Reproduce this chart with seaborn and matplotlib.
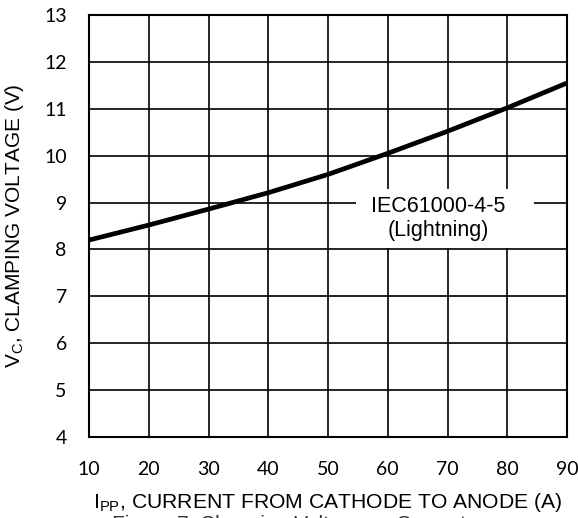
import matplotlib
matplotlib.use("Agg")
import matplotlib.pyplot as plt
from matplotlib.patches import Rectangle
import seaborn as sns
import pandas as pd

current = [10, 20, 30, 40, 50, 60, 70, 80, 90]
voltage = [8.2, 8.52, 8.86, 9.21, 9.6, 10.05, 10.52, 11.02, 11.55]
xticks = [10, 20, 30, 40, 50, 60, 70, 80, 90]
yticks = [4, 5, 6, 7, 8, 9, 10, 11, 12, 13]
annotation = "IEC61000-4-5\n(Lightning)"
caption = "Figure 7. Clamping Voltage vs Current"

sns.set_theme(style="white")
plt.rcParams['font.family'] = ['Liberation Sans', 'DejaVu Sans']

df = pd.DataFrame({"I": current, "V": voltage})

fig = plt.figure(figsize=(5.78, 5.18), dpi=100)
ax = fig.add_axes([89/578, 1-437/518, (567-89)/578, (437-15)/518])

sns.lineplot(data=df, x="I", y="V", ax=ax, color="black", linewidth=3.4, zorder=3)

ax.set_xlim(10, 90)
ax.set_ylim(4, 13)
ax.set_xticks(xticks)
ax.set_yticks(yticks)
ax.grid(True, color="black", linewidth=1.2)
ax.set_axisbelow(True)
for s in ax.spines.values():
    s.set_color("black")
    s.set_linewidth(1.5)
ax.tick_params(axis="x", length=0, pad=17, labelsize=14, colors="black")
ax.tick_params(axis="y", length=0, pad=16, labelsize=14, colors="black")
for lab in ax.get_xticklabels() + ax.get_yticklabels():
    lab.set_fontfamily(['Lato', 'DejaVu Sans'])

ax.set_xlabel(r"$\mathregular{I_{PP}}$, CURRENT FROM CATHODE TO ANODE (A)", fontsize=15.2, color="black", labelpad=10)
ax.set_ylabel(r"$\mathregular{V_{C}}$, CLAMPING VOLTAGE (V)", fontsize=15, color="black", labelpad=13)

# white backdrop behind the annotation (hides grid lines)
ax.add_patch(Rectangle((54.7, 8.03), 29.8, 1.26, facecolor="white", edgecolor="none", zorder=2.5))
ax.text(68.4, 8.66, annotation, ha="center", va="center", fontsize=15.5,
        color="black", linespacing=1.2, zorder=4)

fig.text(0.5, 1-515.5/518, caption, ha="center", va="top",
         fontsize=15, color="#333333")

fig.savefig("out.png", dpi=100)
